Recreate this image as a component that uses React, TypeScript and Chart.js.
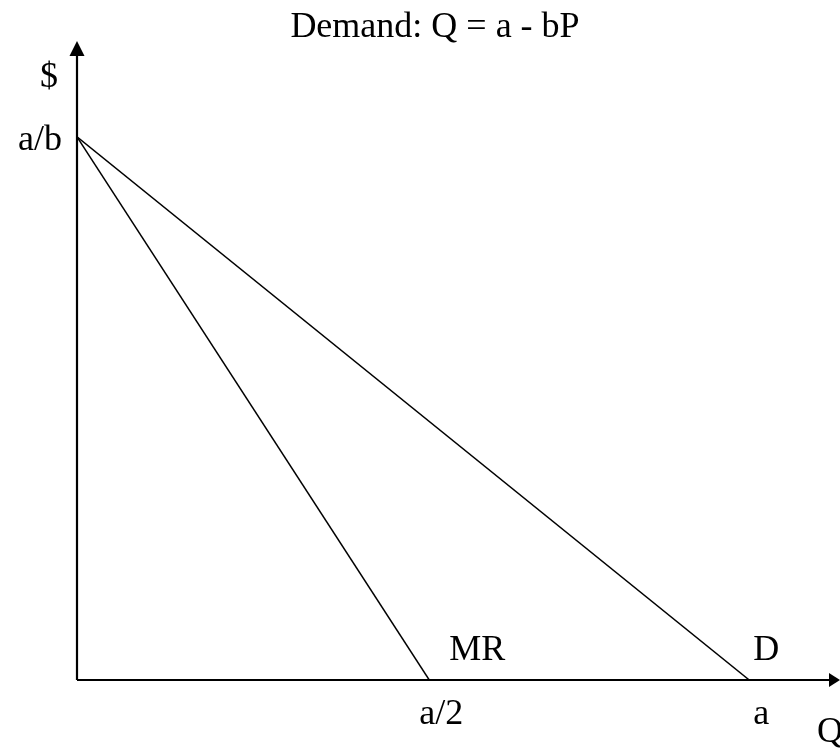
import React, { useEffect, useRef } from "react";
import { Chart, registerables } from "chart.js";

Chart.register(...registerables);

const title = "Demand: Q = a - bP";
const axisMax = { q: 113.5, p: 100 };
const demandQ = [0, 100];
const demandP = [85, 0];
const mrQ = [0, 52.4];
const mrP = [85, 0];
const seriesNames = ["D", "MR"];
const xTickValues = [52.4, 100];
const xTickLabels = ["a/2", "a"];
const yTickValues = [85];
const yTickLabels = ["a/b"];
const yAxisLabel = "$";
const xAxisLabel = "Q";

const FONT = '36px "Liberation Serif", "Times New Roman", serif';

const drawPlugin = {
  id: "econDraw",
  afterDraw(chart: any) {
    const ctx = chart.ctx;
    const xs = chart.scales.x;
    const ys = chart.scales.y;
    const area = chart.chartArea;
    const x0 = xs.getPixelForValue(0);
    const y0 = ys.getPixelForValue(0);
    ctx.save();
    // axes
    ctx.strokeStyle = "#000";
    ctx.fillStyle = "#000";
    ctx.lineWidth = 2.2;
    ctx.beginPath();
    ctx.moveTo(x0, y0);
    ctx.lineTo(x0, area.top + 12);
    ctx.moveTo(x0, y0);
    ctx.lineTo(area.right - 8, y0);
    ctx.stroke();
    // arrowheads
    ctx.beginPath();
    ctx.moveTo(x0, area.top);
    ctx.lineTo(x0 - 7.5, area.top + 15);
    ctx.lineTo(x0 + 7.5, area.top + 15);
    ctx.closePath();
    ctx.fill();
    ctx.beginPath();
    ctx.moveTo(area.right, y0);
    ctx.lineTo(area.right - 11, y0 - 7);
    ctx.lineTo(area.right - 11, y0 + 7);
    ctx.closePath();
    ctx.fill();

    ctx.font = FONT;
    ctx.textBaseline = "alphabetic";
    // title
    ctx.textAlign = "center";
    ctx.fillText(title, 435, 37);
    // y tick labels
    ctx.textAlign = "right";
    yTickValues.forEach((v, i) => {
      ctx.fillText(yTickLabels[i], x0 - 15, ys.getPixelForValue(v) + 13);
    });
    // x tick labels
    ctx.textAlign = "center";
    xTickValues.forEach((v, i) => {
      ctx.fillText(xTickLabels[i], xs.getPixelForValue(v) + 12, y0 + 44);
    });
    // axis labels
    ctx.fillText(yAxisLabel, x0 - 28, ys.getPixelForValue(axisMax.p) + 46);
    ctx.textAlign = "left";
    ctx.fillText(xAxisLabel, area.right - 23, y0 + 62);
    // series labels
    ctx.fillText(seriesNames[1], xs.getPixelForValue(mrQ[1]) + 20, y0 - 20);
    ctx.fillText(seriesNames[0], xs.getPixelForValue(demandQ[1]) + 4, y0 - 20);
    ctx.restore();
  },
};

export default function App() {
  const ref = useRef<HTMLCanvasElement>(null);
  useEffect(() => {
    document.body.style.margin = "0";
    const canvas = ref.current!;
    const chart = new Chart(canvas, {
      type: "scatter",
      data: {
        datasets: [
          {
            label: seriesNames[0],
            data: demandQ.map((q, i) => ({ x: q, y: demandP[i] })),
            showLine: true,
            borderColor: "#000",
            borderWidth: 1.5,
            pointRadius: 0,
          },
          {
            label: seriesNames[1],
            data: mrQ.map((q, i) => ({ x: q, y: mrP[i] })),
            showLine: true,
            borderColor: "#000",
            borderWidth: 1.5,
            pointRadius: 0,
          },
        ],
      },
      options: {
        responsive: false,
        animation: false,
        layout: { padding: { left: 77, right: 0, top: 41, bottom: 69 } },
        plugins: { legend: { display: false }, tooltip: { enabled: false }, title: { display: false } },
        scales: {
          x: { type: "linear", min: 0, max: axisMax.q, display: false },
          y: { type: "linear", min: 0, max: axisMax.p, display: false },
        },
      },
      plugins: [drawPlugin],
    });
    return () => chart.destroy();
  }, []);
  return (
    <div style={{ width: 840, height: 749, background: "#fff" }}>
      <canvas ref={ref} width={840} height={749} style={{ display: "block" }} />
    </div>
  );
}
